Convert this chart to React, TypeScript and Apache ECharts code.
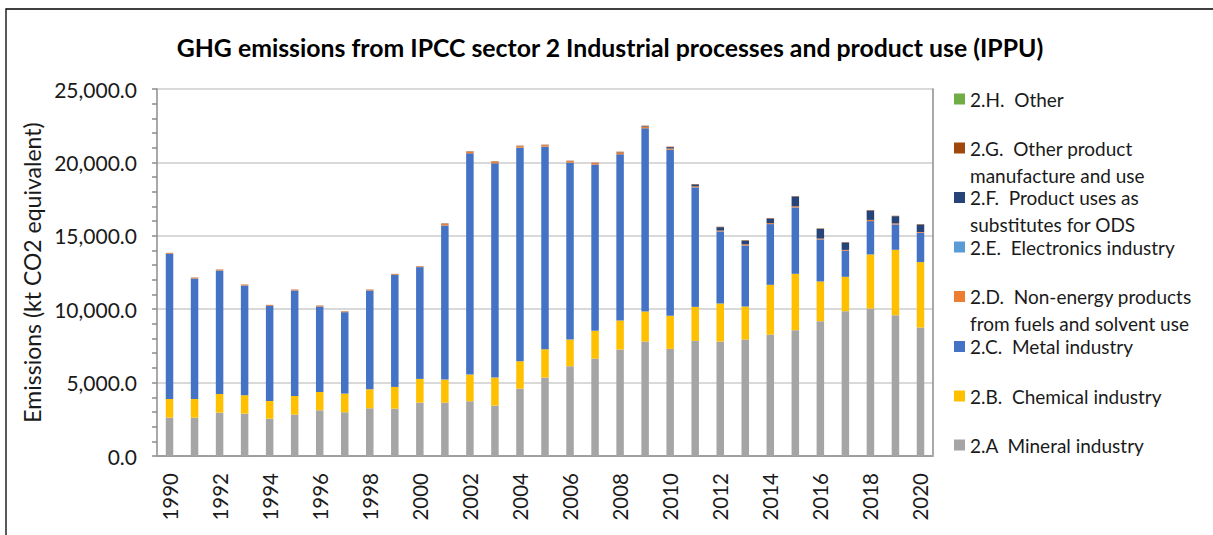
import React, { useEffect, useRef } from "react";
import * as echarts from "echarts";

const years = [
  "1990","1991","1992","1993","1994","1995","1996","1997","1998","1999","2000",
  "2001","2002","2003","2004","2005","2006","2007","2008","2009","2010",
  "2011","2012","2013","2014","2015","2016","2017","2018","2019","2020",
];

// kt CO2 equivalent
const mineral = [2614,2614,2955,2887,2546,2819,3114,2978,3250,3228,3637,3637,3728,3432,4591,5342,6114,6637,7251,7796,7296,7842,7796,7933,8274,8569,9183,9865,10047,9592,8751];
const chemical = [1273,1273,1273,1250,1204,1272,1250,1273,1296,1477,1614,1568,1818,1910,1864,1932,1819,1887,1977,2046,2251,2318,2592,2250,3386,3842,2705,2341,3682,4455,4455];
const metal = [9887,8205,8410,7478,6479,7183,5819,5546,6728,7637,7614,10501,15070,14592,14548,13797,12047,11319,11320,12479,11319,8138,4909,4160,4137,4523,2864,1773,2273,1728,2001];
const nonEnergy = [45,45,45,45,45,45,45,45,45,45,45,100,100,100,100,100,100,100,130,110,80,70,60,80,70,80,60,60,80,70,50];
const electronics = [0,0,0,0,0,0,0,0,0,0,0,0,0,0,0,0,0,0,0,0,0,0,0,0,0,0,0,0,0,0,0];
const odsSubstitutes = [0,0,0,0,0,0,0,0,0,0,0,6,6,6,6,6,6,6,20,40,95,130,230,250,310,660,660,500,640,490,510];
const otherProduct = [20,20,20,20,20,20,20,20,20,20,20,30,30,30,30,30,30,30,30,30,30,30,30,30,30,30,30,30,30,30,30];
const other = [0,0,0,0,0,0,0,0,0,0,0,0,0,0,0,0,0,0,0,0,0,0,0,0,0,0,0,0,0,0,0];

const yTicks = { min: 0, max: 25000, interval: 5000 };

const seriesDefs = [
  { name: "2.A  Mineral industry", label: ["2.A  Mineral industry"], data: mineral, color: "#A5A5A5" },
  { name: "2.B.  Chemical industry", label: ["2.B.  Chemical industry"], data: chemical, color: "#FFC000" },
  { name: "2.C.  Metal industry", label: ["2.C.  Metal industry"], data: metal, color: "#4472C4" },
  { name: "2.D.  Non-energy products from fuels and solvent use", label: ["2.D.  Non-energy products", "from fuels and solvent use"], data: nonEnergy, color: "#ED7D31" },
  { name: "2.E.  Electronics industry", label: ["2.E.  Electronics industry"], data: electronics, color: "#5B9BD5" },
  { name: "2.F.  Product uses as substitutes for ODS", label: ["2.F.  Product uses as", "substitutes for ODS"], data: odsSubstitutes, color: "#264478" },
  { name: "2.G.  Other product manufacture and use", label: ["2.G.  Other product", "manufacture and use"], data: otherProduct, color: "#9E480E" },
  { name: "2.H.  Other", label: ["2.H.  Other"], data: other, color: "#70AD47" },
];

// first-line vertical centres of legend entries
const legendCenters: Record<string, number> = {
  "2.H.  Other": 99,
  "2.G.  Other product manufacture and use": 148,
  "2.F.  Product uses as substitutes for ODS": 197.5,
  "2.E.  Electronics industry": 247,
  "2.D.  Non-energy products from fuels and solvent use": 296.5,
  "2.C.  Metal industry": 346.5,
  "2.B.  Chemical industry": 396,
  "2.A  Mineral industry": 445,
};

const FONT = "Lato";
const LH = 27;

export default function App() {
  const ref = useRef<HTMLDivElement>(null);
  useEffect(() => {
    document.body.style.margin = "0";
    if (!ref.current) return;
    const chart = echarts.init(ref.current, undefined, { renderer: "svg" });

    const legends = seriesDefs.map((s) => {
      const two = s.label.length > 1;
      const center = legendCenters[s.name];
      return {
        data: [s.name],
        left: 954,
        top: two ? center - LH * 1.5 : center - LH / 2,
        orient: "vertical",
        padding: 0,
        itemWidth: 11,
        itemHeight: 11,
        itemGap: 0,
        icon: "rect",
        selectedMode: false,
        formatter: () => (two ? "\n" + s.label[0] + "\n" + s.label[1] : s.label[0]),
        textStyle: { fontFamily: FONT, fontSize: 19, color: "#1a1a1a", lineHeight: LH, padding: [0, 0, 0, 0] },
      };
    });

    chart.setOption({
      animation: false,
      backgroundColor: "#ffffff",
      title: {
        text: "GHG emissions from IPCC sector 2 Industrial processes and product use (IPPU)",
        left: 610,
        textAlign: "center",
        top: 35,
        padding: 0,
        textStyle: { fontFamily: FONT, fontSize: 24.8, fontWeight: "bold", color: "#000" },
      },
      graphic: [
        {
          type: "rect",
          shape: { x: 6, y: 9, width: 1400, height: 800 },
          style: { fill: "none", stroke: "#000", lineWidth: 1.3 },
          silent: true,
        },
      ],
      legend: legends,
      grid: { left: 157, right: 280, top: 89, bottom: 79 },
      xAxis: [
        {
          type: "category",
          data: years,
          axisLine: { show: true, lineStyle: { color: "#D9D9D9", width: 2 } },
          axisTick: { show: false },
          axisLabel: {
            interval: 1,
            rotate: 90,
            margin: 17,
            fontFamily: FONT,
            fontSize: 20.5,
            color: "#1a1a1a",
          },
        },
        {
          type: "category",
          data: years,
          position: "top",
          axisLine: { show: true, lineStyle: { color: "#8C8C8C", width: 1.5 } },
          axisTick: { show: false },
          axisLabel: { show: false },
        },
      ],
      yAxis: [
        {
          type: "value",
          min: yTicks.min,
          max: yTicks.max,
          interval: yTicks.interval,
          name: "Emissions (kt CO2 equivalent)",
          nameLocation: "middle",
          nameGap: 110,
          nameTextStyle: { fontFamily: FONT, fontSize: 23, color: "#1a1a1a" },
          axisLine: { show: true, lineStyle: { color: "#8C8C8C", width: 1.5 } },
          axisTick: { show: true, length: 5, lineStyle: { color: "#8C8C8C", width: 1.5 } },
          minorTick: { show: true, splitNumber: 5, length: 5, lineStyle: { color: "#8C8C8C", width: 1.5 } },
          splitLine: { show: true, lineStyle: { color: "#D9D9D9", width: 2 } },
          axisLabel: {
            margin: 20,
            fontFamily: FONT,
            fontSize: 21,
            color: "#1a1a1a",
            formatter: (v: number) =>
              v.toLocaleString("en-US", { minimumFractionDigits: 1, maximumFractionDigits: 1 }),
          },
        },
        {
          type: "value",
          min: yTicks.min,
          max: yTicks.max,
          interval: yTicks.interval,
          position: "right",
          axisLine: { show: true, lineStyle: { color: "#8C8C8C", width: 1.5 } },
          axisTick: { show: false },
          axisLabel: { show: false },
          splitLine: { show: false },
        },
      ],
      series: seriesDefs.map((s) => ({
        name: s.name,
        type: "bar",
        stack: "total",
        barWidth: 7.5,
        data: s.data,
        itemStyle: { color: s.color },
        emphasis: { disabled: true },
      })),
    });
    return () => chart.dispose();
  }, []);
  return <div ref={ref} style={{ width: 1213, height: 535 }} />;
}
